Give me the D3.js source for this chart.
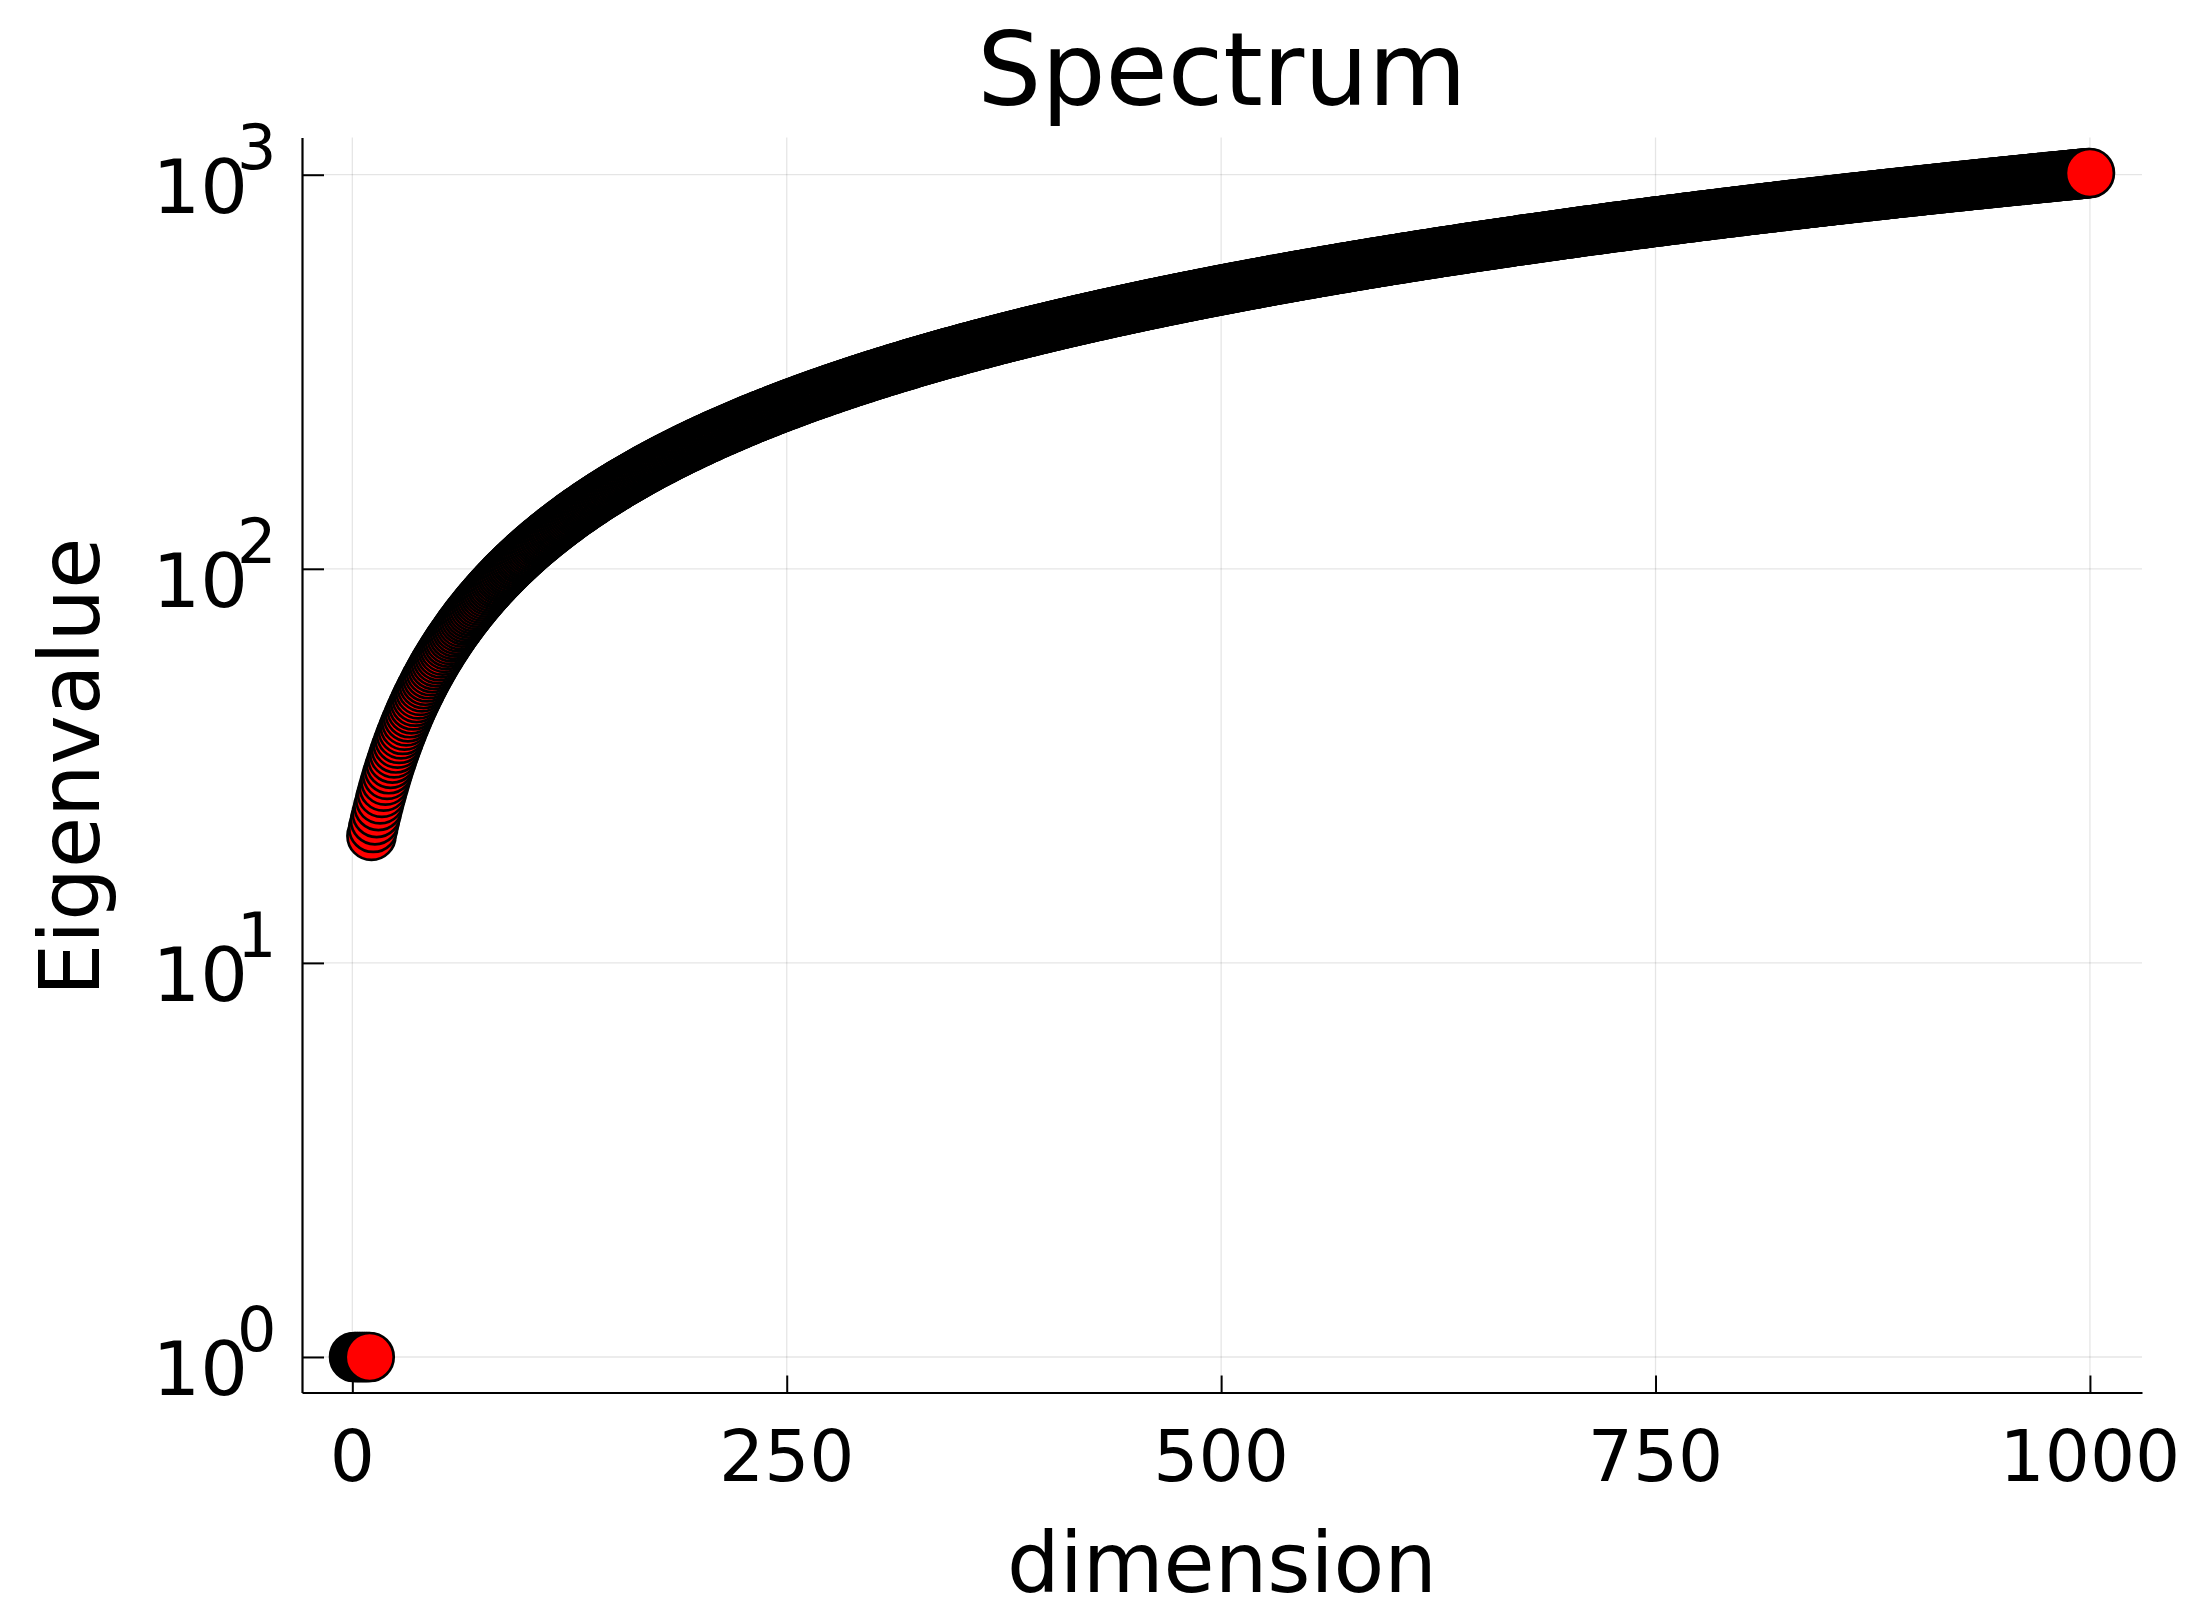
<!DOCTYPE html>
<html>
<head>
<meta charset="utf-8">
<script src="https://cdn.jsdelivr.net/npm/d3@7"></script>
<style>
  html, body { margin: 0; padding: 0; background: #ffffff; }
  svg { display: block; }
</style>
</head>
<body>
<svg id="chart" width="2188" height="1605"></svg>
<script>
// ---- data ----
const title = "Spectrum";
const xLabel = "dimension";
const yLabel = "Eigenvalue";
const xTicks = [0, 250, 500, 750, 1000];
const yTickExponents = [0, 1, 2, 3];
// eigenvalue for dimension 1..1000 (in order)
const eigenvalues = [
  1,1,1,1,1,1,1,1,1,1,
  21,22,23,24,25,26,27,28,29,30,31,32,33,34,35,36,37,38,39,40,41,42,43,44,45,46,47,48,49,50,
  51,52,53,54,55,56,57,58,59,60,61,62,63,64,65,66,67,68,69,70,71,72,73,74,75,76,77,78,79,80,
  81,82,83,84,85,86,87,88,89,90,91,92,93,94,95,96,97,98,99,100,101,102,103,104,105,106,107,108,109,110,
  111,112,113,114,115,116,117,118,119,120,121,122,123,124,125,126,127,128,129,130,131,132,133,134,135,136,137,138,139,140,
  141,142,143,144,145,146,147,148,149,150,151,152,153,154,155,156,157,158,159,160,161,162,163,164,165,166,167,168,169,170,
  171,172,173,174,175,176,177,178,179,180,181,182,183,184,185,186,187,188,189,190,191,192,193,194,195,196,197,198,199,200,
  201,202,203,204,205,206,207,208,209,210,211,212,213,214,215,216,217,218,219,220,221,222,223,224,225,226,227,228,229,230,
  231,232,233,234,235,236,237,238,239,240,241,242,243,244,245,246,247,248,249,250,251,252,253,254,255,256,257,258,259,260,
  261,262,263,264,265,266,267,268,269,270,271,272,273,274,275,276,277,278,279,280,281,282,283,284,285,286,287,288,289,290,
  291,292,293,294,295,296,297,298,299,300,301,302,303,304,305,306,307,308,309,310,311,312,313,314,315,316,317,318,319,320,
  321,322,323,324,325,326,327,328,329,330,331,332,333,334,335,336,337,338,339,340,341,342,343,344,345,346,347,348,349,350,
  351,352,353,354,355,356,357,358,359,360,361,362,363,364,365,366,367,368,369,370,371,372,373,374,375,376,377,378,379,380,
  381,382,383,384,385,386,387,388,389,390,391,392,393,394,395,396,397,398,399,400,401,402,403,404,405,406,407,408,409,410,
  411,412,413,414,415,416,417,418,419,420,421,422,423,424,425,426,427,428,429,430,431,432,433,434,435,436,437,438,439,440,
  441,442,443,444,445,446,447,448,449,450,451,452,453,454,455,456,457,458,459,460,461,462,463,464,465,466,467,468,469,470,
  471,472,473,474,475,476,477,478,479,480,481,482,483,484,485,486,487,488,489,490,491,492,493,494,495,496,497,498,499,500,
  501,502,503,504,505,506,507,508,509,510,511,512,513,514,515,516,517,518,519,520,521,522,523,524,525,526,527,528,529,530,
  531,532,533,534,535,536,537,538,539,540,541,542,543,544,545,546,547,548,549,550,551,552,553,554,555,556,557,558,559,560,
  561,562,563,564,565,566,567,568,569,570,571,572,573,574,575,576,577,578,579,580,581,582,583,584,585,586,587,588,589,590,
  591,592,593,594,595,596,597,598,599,600,601,602,603,604,605,606,607,608,609,610,611,612,613,614,615,616,617,618,619,620,
  621,622,623,624,625,626,627,628,629,630,631,632,633,634,635,636,637,638,639,640,641,642,643,644,645,646,647,648,649,650,
  651,652,653,654,655,656,657,658,659,660,661,662,663,664,665,666,667,668,669,670,671,672,673,674,675,676,677,678,679,680,
  681,682,683,684,685,686,687,688,689,690,691,692,693,694,695,696,697,698,699,700,701,702,703,704,705,706,707,708,709,710,
  711,712,713,714,715,716,717,718,719,720,721,722,723,724,725,726,727,728,729,730,731,732,733,734,735,736,737,738,739,740,
  741,742,743,744,745,746,747,748,749,750,751,752,753,754,755,756,757,758,759,760,761,762,763,764,765,766,767,768,769,770,
  771,772,773,774,775,776,777,778,779,780,781,782,783,784,785,786,787,788,789,790,791,792,793,794,795,796,797,798,799,800,
  801,802,803,804,805,806,807,808,809,810,811,812,813,814,815,816,817,818,819,820,821,822,823,824,825,826,827,828,829,830,
  831,832,833,834,835,836,837,838,839,840,841,842,843,844,845,846,847,848,849,850,851,852,853,854,855,856,857,858,859,860,
  861,862,863,864,865,866,867,868,869,870,871,872,873,874,875,876,877,878,879,880,881,882,883,884,885,886,887,888,889,890,
  891,892,893,894,895,896,897,898,899,900,901,902,903,904,905,906,907,908,909,910,911,912,913,914,915,916,917,918,919,920,
  921,922,923,924,925,926,927,928,929,930,931,932,933,934,935,936,937,938,939,940,941,942,943,944,945,946,947,948,949,950,
  951,952,953,954,955,956,957,958,959,960,961,962,963,964,965,966,967,968,969,970,971,972,973,974,975,976,977,978,979,980,
  981,982,983,984,985,986,987,988,989,990,991,992,993,994,995,996,997,998,999,1000,1001,1002,1003,1004,1005,1006,1007,1008,1009,1010
];

// ---- layout ----
const FONT = "'DejaVu Sans', 'Liberation Sans', sans-serif";
const plot = { left: 302, right: 2142, top: 137.5, bottom: 1392.5 };

const points = eigenvalues.map((v, i) => ({ dim: i + 1, val: v }));

// axis limits widened by 3% like the original plotting library
const xExt = d3.extent(points, d => d.dim);
const xPad = 0.03 * (xExt[1] - xExt[0]);
const x = d3.scaleLinear()
  .domain([xExt[0] - xPad, xExt[1] + xPad])
  .range([plot.left, plot.right]);

const lExt = d3.extent(points, d => Math.log10(d.val));
const lPad = 0.03 * (lExt[1] - lExt[0]);
const y = d3.scaleLog()
  .domain([Math.pow(10, lExt[0] - lPad), Math.pow(10, lExt[1] + lPad)])
  .range([plot.bottom, plot.top]);

const svg = d3.select("#chart");
svg.append("rect").attr("width", 2188).attr("height", 1605).attr("fill", "#ffffff");

// grid
const grid = svg.append("g").attr("stroke", "#000").attr("stroke-opacity", 0.1).attr("stroke-width", 1.3);
grid.selectAll("line.gx").data(xTicks).join("line")
  .attr("x1", d => x(d)).attr("x2", d => x(d))
  .attr("y1", plot.top).attr("y2", plot.bottom);
grid.selectAll("line.gy").data(yTickExponents).join("line")
  .attr("x1", plot.left).attr("x2", plot.right)
  .attr("y1", d => y(Math.pow(10, d))).attr("y2", d => y(Math.pow(10, d)));

// axes via d3 axis generators (inward ticks)
const xAxis = d3.axisBottom(x).tickValues(xTicks).tickSizeInner(-17).tickSizeOuter(0).tickFormat("");
const gx = svg.append("g").attr("transform", `translate(0,${plot.bottom})`).call(xAxis);
gx.select(".domain").attr("stroke", "#000").attr("stroke-width", 2.2);
gx.selectAll(".tick line").attr("stroke", "#000").attr("stroke-width", 2);

const yAxis = d3.axisLeft(y).tickValues(yTickExponents.map(e => Math.pow(10, e))).tickSizeInner(-22).tickSizeOuter(0).tickFormat("");
const gy = svg.append("g").attr("transform", `translate(${plot.left},0)`).call(yAxis);
gy.select(".domain").attr("stroke", "#000").attr("stroke-width", 2.2);
gy.selectAll(".tick line").attr("stroke", "#000").attr("stroke-width", 2);

// x tick labels
svg.append("g").selectAll("text").data(xTicks).join("text")
  .attr("x", d => x(d)).attr("y", 1481)
  .attr("text-anchor", "middle")
  .attr("font-family", FONT).attr("font-size", 71).attr("fill", "#000")
  .text(d => d);

// y tick labels: 10 with superscript exponent
const yl = svg.append("g");
yl.selectAll("text.base").data(yTickExponents).join("text")
  .attr("class", "base")
  .attr("x", 248).attr("y", d => y(Math.pow(10, d)) + 38)
  .attr("text-anchor", "end")
  .attr("font-family", FONT).attr("font-size", 75).attr("fill", "#000")
  .text("10");
yl.selectAll("text.sup").data(yTickExponents).join("text")
  .attr("class", "sup")
  .attr("x", 237).attr("y", d => y(Math.pow(10, d)) - 6)
  .attr("text-anchor", "start")
  .attr("font-family", FONT).attr("font-size", 62).attr("fill", "#000")
  .text(d => d);

// markers (drawn in order so later points cover earlier ones)
svg.append("g").selectAll("circle").data(points).join("circle")
  .attr("cx", d => x(d.dim))
  .attr("cy", d => y(d.val))
  .attr("r", 24)
  .attr("fill", "#ff0000")
  .attr("stroke", "#000")
  .attr("stroke-width", 2.7);

// title and axis labels
svg.append("text").attr("x", (plot.left + plot.right) / 2).attr("y", 105)
  .attr("text-anchor", "middle").attr("font-family", FONT).attr("font-size", 101).attr("fill", "#000")
  .text(title);
svg.append("text").attr("x", (plot.left + plot.right) / 2).attr("y", 1592)
  .attr("text-anchor", "middle").attr("font-family", FONT).attr("font-size", 83).attr("fill", "#000")
  .text(xLabel);
svg.append("text")
  .attr("transform", `translate(99,${(plot.top + plot.bottom) / 2 + 2}) rotate(-90)`)
  .attr("text-anchor", "middle").attr("font-family", FONT).attr("font-size", 83).attr("fill", "#000")
  .text(yLabel);
</script>
</body>
</html>
